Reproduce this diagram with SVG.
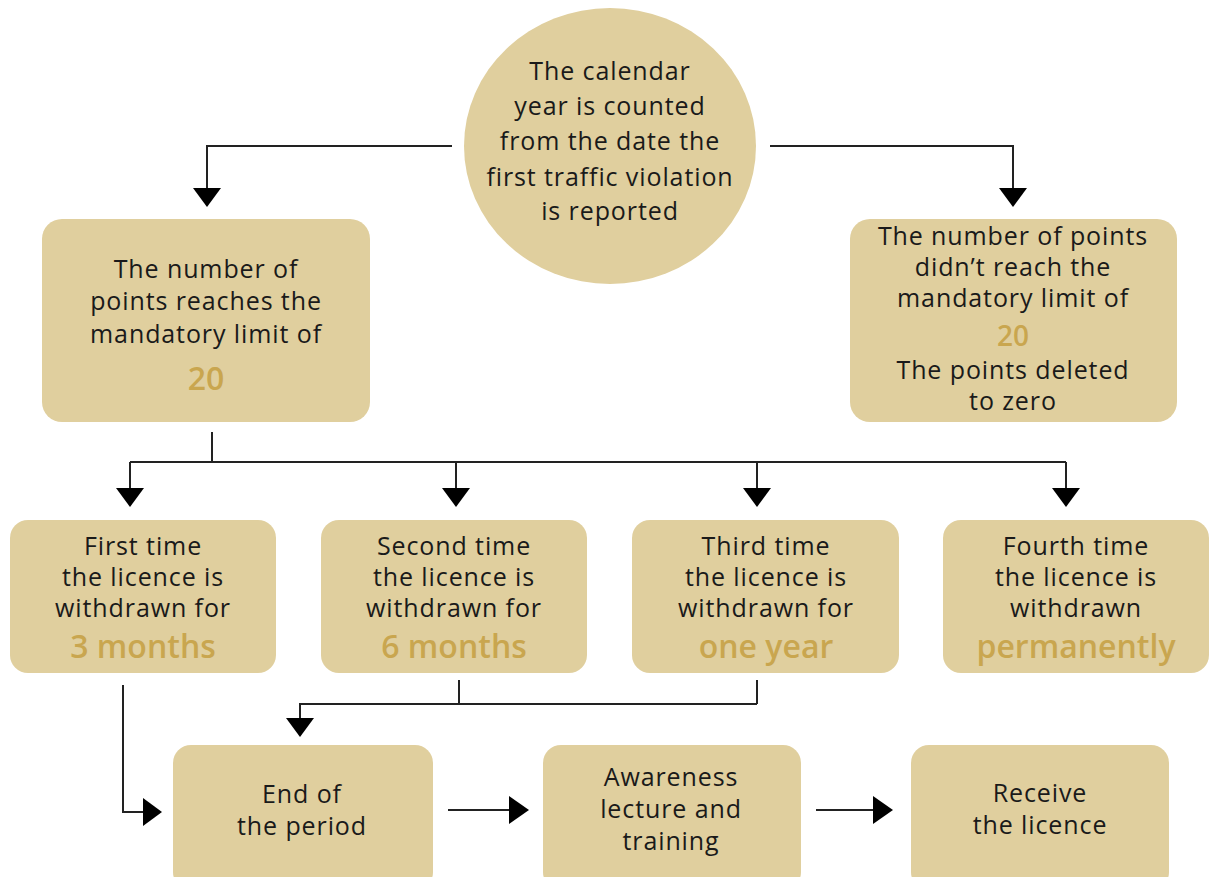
<svg xmlns="http://www.w3.org/2000/svg" width="1210" height="877" viewBox="0 0 1210 877">
<style>
.n{fill:#e0cf9e}
.t{font-family:"Open Sans","Noto Sans",sans-serif;font-size:25px;letter-spacing:0.9px;fill:#1a1a1a;text-anchor:middle}
.g{font-family:"Open Sans","Noto Sans",sans-serif;font-size:32px;font-weight:600;fill:#c9a64f;text-anchor:middle}
.c{fill:none;stroke:#222;stroke-width:2}
.h{fill:#000}
</style>
<rect width="1210" height="877" fill="#fff"/>
<g id="connectors">
<path class="c" d="M452 146H207V190M770 146H1013V190"/>
<polygon class="h" points="193,188 221,188 207,207"/>
<polygon class="h" points="999,188 1027,188 1013,207"/>
<path class="c" d="M212 432V462M130 462H1066M130 462V490M456 462V490M757 462V490M1066 462V490"/>
<polygon class="h" points="116,488 144,488 130,507"/>
<polygon class="h" points="442,488 470,488 456,507"/>
<polygon class="h" points="743,488 771,488 757,507"/>
<polygon class="h" points="1052,488 1080,488 1066,507"/>
<path class="c" d="M123 685V812H145"/>
<polygon class="h" points="143,798 143,826 162,812"/>
<path class="c" d="M459 680V704M757 680V704M757 704H300V720"/>
<polygon class="h" points="286,718 314,718 300,737"/>
<path class="c" d="M448 810H512"/>
<polygon class="h" points="509,796 509,824 529,810"/>
<path class="c" d="M816 810H876"/>
<polygon class="h" points="873,796 873,824 893,810"/>
</g>
<g id="start">
<ellipse class="n" cx="610" cy="146" rx="146" ry="138"/>
<text class="t" x="610" y="80">The calendar</text>
<text class="t" x="610" y="115">year is counted</text>
<text class="t" x="610" y="150">from the date the</text>
<text class="t" x="610" y="186">first traffic violation</text>
<text class="t" x="610" y="220">is reported</text>
</g>
<g id="reach">
<rect class="n" x="42" y="219" width="328" height="203" rx="20"/>
<text class="t" x="206" y="278">The number of</text>
<text class="t" x="206" y="310">points reaches the</text>
<text class="t" x="206" y="343">mandatory limit of</text>
<text class="g" x="206" y="390">20</text>
</g>
<g id="notreach">
<rect class="n" x="850" y="219" width="327" height="203" rx="20"/>
<text class="t" x="1013" y="245">The number of points</text>
<text class="t" x="1013" y="276">didn’t reach the</text>
<text class="t" x="1013" y="307">mandatory limit of</text>
<text class="g" x="1013" y="346" style="font-size:28px">20</text>
<text class="t" x="1013" y="379">The points deleted</text>
<text class="t" x="1013" y="410">to zero</text>
</g>
<g id="first">
<rect class="n" x="10" y="520" width="266" height="153" rx="18"/>
<text class="t" x="143" y="555">First time</text>
<text class="t" x="143" y="586">the licence is</text>
<text class="t" x="143" y="617">withdrawn for</text>
<text class="g" x="143" y="658">3 months</text>
</g>
<g id="second">
<rect class="n" x="321" y="520" width="266" height="153" rx="18"/>
<text class="t" x="454" y="555">Second time</text>
<text class="t" x="454" y="586">the licence is</text>
<text class="t" x="454" y="617">withdrawn for</text>
<text class="g" x="454" y="658">6 months</text>
</g>
<g id="third">
<rect class="n" x="632" y="520" width="267" height="153" rx="18"/>
<text class="t" x="766" y="555">Third time</text>
<text class="t" x="766" y="586">the licence is</text>
<text class="t" x="766" y="617">withdrawn for</text>
<text class="g" x="766" y="658">one year</text>
</g>
<g id="fourth">
<rect class="n" x="943" y="520" width="266" height="153" rx="18"/>
<text class="t" x="1076" y="555">Fourth time</text>
<text class="t" x="1076" y="586">the licence is</text>
<text class="t" x="1076" y="617">withdrawn</text>
<text class="g" x="1076" y="658">permanently</text>
</g>
<g id="end">
<rect class="n" x="173" y="745" width="260" height="145" rx="18"/>
<text class="t" x="302" y="803">End of</text>
<text class="t" x="302" y="835">the period</text>
</g>
<g id="awareness">
<rect class="n" x="543" y="745" width="258" height="145" rx="18"/>
<text class="t" x="671" y="786">Awareness</text>
<text class="t" x="671" y="818">lecture and</text>
<text class="t" x="671" y="850">training</text>
</g>
<g id="receive">
<rect class="n" x="911" y="745" width="258" height="145" rx="18"/>
<text class="t" x="1040" y="802">Receive</text>
<text class="t" x="1040" y="834">the licence</text>
</g>
</svg>
